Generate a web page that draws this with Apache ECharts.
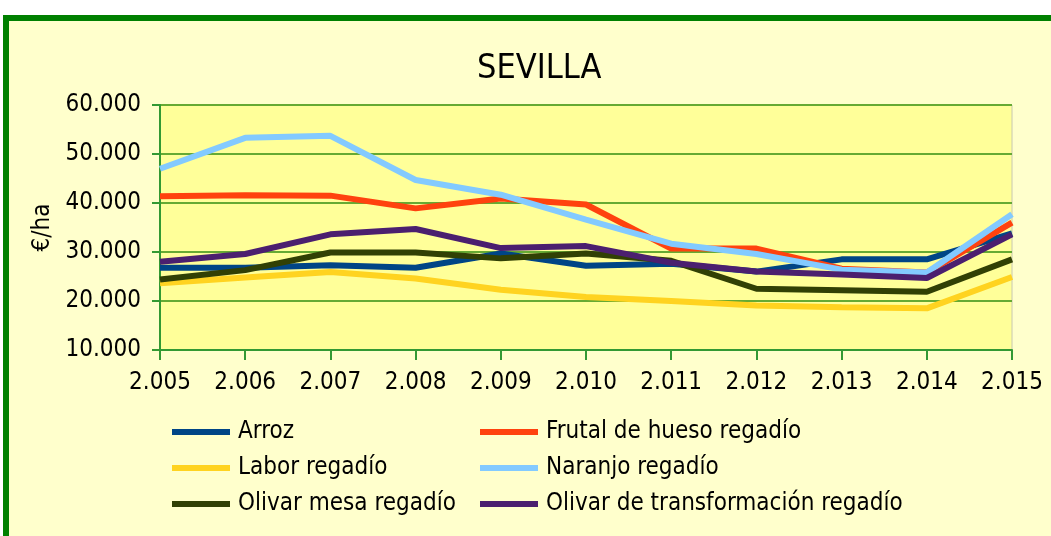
<!DOCTYPE html>
<html>
<head>
<meta charset="utf-8">
<script src="https://cdn.jsdelivr.net/npm/echarts@6/dist/echarts.min.js"></script>
<style>
html,body{margin:0;padding:0;background:#ffffff;}
#chart{width:1051px;height:536px;}
</style>
</head>
<body>
<div id="chart"></div>
<script>
const years = ['2.005','2.006','2.007','2.008','2.009','2.010','2.011','2.012','2.013','2.014','2.015'];
const arroz = [26800, 26800, 27300, 26800, 29700, 27200, 27600, 26000, 28500, 28500, 33800];
const frutal = [41400, 41600, 41500, 38900, 40900, 39700, 30700, 30700, 26600, 25800, 36000];
const labor = [23600, 24800, 25900, 24600, 22300, 20800, 20000, 19100, 18700, 18500, 24900];
const naranjo = [47000, 53300, 53700, 44700, 41700, 36600, 31700, 29600, 26400, 25800, 37700];
const olivarMesa = [24400, 26300, 29900, 29900, 28700, 29700, 28200, 22500, 22200, 21900, 28500];
const olivarTransf = [28000, 29600, 33600, 34700, 30800, 31200, 27800, 26000, 25400, 24700, 33600];

const seriesNames = ['Arroz','Frutal de hueso regadío','Labor regadío','Naranjo regadío','Olivar mesa regadío','Olivar de transformación regadío'];
const seriesData = [arroz, frutal, labor, naranjo, olivarMesa, olivarTransf];
const colors = ['#004586','#ff420e','#ffd320','#83caff','#314004','#4b1f6f'];

const FONT = '"DejaVu Sans Condensed", "DejaVu Sans", sans-serif';
const chart = echarts.init(document.getElementById('chart'));
const fmt = v => {
  const s = String(v);
  return s.length > 3 ? s.slice(0, s.length - 3) + '.' + s.slice(-3) : s;
};
const legendCommon = {
  orient: 'vertical',
  icon: 'rect',
  itemWidth: 58,
  itemHeight: 6,
  itemGap: 12,
  textStyle: {fontFamily: FONT, fontSize: 24, lineHeight: 24, color: '#000', padding: [0,0,0,3]},
  selectedMode: false
};
chart.setOption({
  animation: false,
  color: colors,
  graphic: [{
    type: 'rect', z: -10,
    shape: {x: 6, y: 18, width: 1100, height: 600},
    style: {fill: '#ffffcc', stroke: '#008000', lineWidth: 6}
  }],
  title: {
    text: 'SEVILLA', left: 472, top: 47,
    textStyle: {fontFamily: FONT, fontSize: 34, fontWeight: 'normal', color: '#000'}
  },
  grid: {left: 160, right: 39, top: 105, bottom: 186, show: true, backgroundColor: '#ffff99', borderColor: '#c8c8b0', borderWidth: 1},
  legend: [
    Object.assign({}, legendCommon, {left: 167, top: 415, data: ['Arroz','Labor regadío','Olivar mesa regadío']}),
    Object.assign({}, legendCommon, {left: 475, top: 415, data: ['Frutal de hueso regadío','Naranjo regadío','Olivar de transformación regadío']})
  ],
  xAxis: {
    type: 'category', data: years, boundaryGap: false,
    axisLine: {lineStyle: {color: '#339933', width: 2}},
    axisTick: {show: true, length: 10, lineStyle: {color: '#339933', width: 2}},
    axisLabel: {fontFamily: FONT, fontSize: 24, color: '#000', margin: 21}
  },
  yAxis: {
    type: 'value', min: 10000, max: 60000, interval: 10000,
    name: '€/ha', nameLocation: 'middle', nameGap: 104, nameRotate: 90,
    nameTextStyle: {fontFamily: FONT, fontSize: 24, color: '#000'},
    axisLine: {show: true, lineStyle: {color: '#339933', width: 2}},
    axisTick: {show: true, length: 8, lineStyle: {color: '#339933', width: 2}},
    axisLabel: {fontFamily: FONT, fontSize: 24, color: '#000', margin: 19, formatter: fmt},
    splitLine: {lineStyle: {color: '#66aa33', width: 2}}
  },
  series: seriesNames.map((n, i) => ({
    name: n, type: 'line', data: seriesData[i], symbol: 'none',
    lineStyle: {width: 6, color: colors[i]}, itemStyle: {color: colors[i]}
  }))
});
</script>
</body>
</html>
